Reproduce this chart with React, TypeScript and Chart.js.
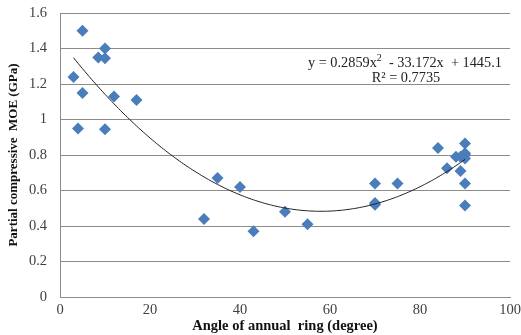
import React, { useEffect, useRef } from "react";
import { Chart, registerables } from "chart.js";

Chart.register(...registerables);

const angleDeg: number[] = [3, 5, 5, 4, 8.5, 10, 10, 10, 12, 17, 32, 35, 40, 43, 50, 55, 70, 70, 70, 75, 84, 86, 88, 89, 89, 90, 90, 90, 90, 90, 90];
const moeGPa: number[] = [1.24, 1.5, 1.15, 0.95, 1.35, 1.345, 1.4, 0.945, 1.13, 1.11, 0.44, 0.67, 0.62, 0.37, 0.48, 0.41, 0.64, 0.53, 0.52, 0.64, 0.84, 0.725, 0.79, 0.71, 0.79, 0.8, 0.81, 0.865, 0.64, 0.515, 0.78];

// Trendline coefficients shown on the chart (MPa units) -> GPa
const trendCoef: number[] = [0.2859, -33.172, 1445.1];
const trendStart = 3;
const trendEnd = 90;
const xTicks: number[] = [0, 20, 40, 60, 80, 100];

const SERIF = "'Liberation Serif', 'Times New Roman', serif";

export default function App() {
  const ref = useRef<HTMLCanvasElement | null>(null);
  useEffect(() => {
    document.body.style.margin = "0";
    const canvas = ref.current!;
    const trend: { x: number; y: number }[] = [];
    for (let x = trendStart; x <= trendEnd; x += 1) {
      const y = (trendCoef[0] * x * x + trendCoef[1] * x + trendCoef[2]) / 1000;
      trend.push({ x, y });
    }
    const pts = angleDeg.map((x, i) => ({ x, y: moeGPa[i] }));

    const eqPlugin = {
      id: "eq",
      afterDraw(chart: any) {
        const ctx = chart.ctx;
        ctx.save();
        ctx.fillStyle = "#222";
        ctx.textBaseline = "alphabetic";
        ctx.font = `14.3px ${SERIF}`;
        let x = 308;
        const y = 67;
        const a = "y = 0.2859x";
        ctx.fillText(a, x, y);
        x += ctx.measureText(a).width;
        ctx.font = `10px ${SERIF}`;
        ctx.fillText("2", x, y - 6);
        x += ctx.measureText("2").width;
        ctx.font = `14.3px ${SERIF}`;
        ctx.fillText("  - 33.172x  + 1445.1", x, y);
        ctx.textAlign = "center";
        ctx.fillText("R² = 0.7735", 406, 82);
        ctx.restore();
      },
    };

    const chart = new Chart(canvas, {
      type: "scatter",
      data: {
        datasets: [
          {
            data: pts,
            pointStyle: "rectRot",
            pointRadius: 6,
            backgroundColor: "#4A7EBB",
            borderColor: "#4A7EBB",
            borderWidth: 0,
            order: 2,
          },
          {
            type: "line",
            data: trend,
            borderColor: "#222",
            borderWidth: 1,
            pointRadius: 0,
            fill: false,
            tension: 0.3,
            order: 1,
          } as any,
        ],
      },
      options: {
        animation: false,
        responsive: false,
        layout: { padding: { top: 13, right: 11, left: 0, bottom: 0 } },
        plugins: { legend: { display: false }, tooltip: { enabled: false } },
        scales: {
          x: {
            type: "linear",
            min: 0,
            max: 100,
            afterBuildTicks: (axis: any) => {
              axis.ticks = xTicks.map((v) => ({ value: v }));
            },
            afterFit: (axis: any) => {
              axis.height = 38;
              axis.paddingLeft = 0;
              axis.paddingRight = 0;
            },
            grid: { display: false, drawTicks: false },
            border: { display: true, color: "#8c8c8c", width: 1 },
            ticks: {
              color: "#404040",
              font: { family: SERIF, size: 14.5 },
              padding: 4,
              maxRotation: 0,
            },
            title: {
              display: true,
              text: "Angle of annual  ring (degree)",
              color: "#111",
              font: { family: SERIF, size: 14.5, weight: "bold" },
              padding: { top: -5, bottom: 0 },
            },
          },
          y: {
            min: 0,
            max: 1.6,
            ticks: {
              stepSize: 0.2,
              color: "#404040",
              font: { family: SERIF, size: 14.5 },
              padding: 13,
              callback: (v: any) => {
                const n = Math.round(Number(v) * 10) / 10;
                return n === 0 ? "0" : n === 1 ? "1" : n.toFixed(1);
              },
            },
            afterFit: (axis: any) => {
              axis.width = 60;
              axis.paddingTop = 0;
              axis.paddingBottom = 0;
            },
            grid: { color: "#8c8c8c", lineWidth: 1, drawTicks: false },
            border: { display: true, color: "#8c8c8c", width: 1 },
            title: {
              display: true,
              text: "Partial compressive  MOE (GPa)",
              color: "#111",
              font: { family: SERIF, size: 13, weight: "bold" },
              padding: { top: 6, bottom: 0 },
            },
          },
        },
      },
      plugins: [eqPlugin],
    });
    return () => chart.destroy();
  }, []);
  return <canvas ref={ref} width={521} height={335} style={{ display: "block" }} />;
}
